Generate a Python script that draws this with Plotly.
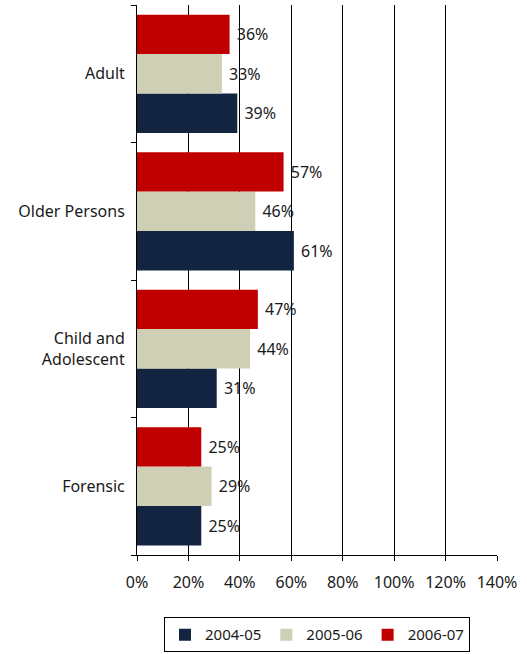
import plotly.graph_objects as go

# Service groups, listed bottom-to-top as plotly draws them
categories = ["Forensic", "Child and<br>Adolescent", "Older Persons", "Adult"]
years = ["2004-05", "2005-06", "2006-07"]
values_2004_05 = [25, 31, 61, 39]
values_2005_06 = [29, 44, 46, 33]
values_2006_07 = [25, 47, 57, 36]
colors = ["#12243F", "#CFCFB5", "#C00000"]
x_ticks = [0, 20, 40, 60, 80, 100, 120, 140]

FONT = "'Noto Sans', 'Open Sans', sans-serif"

fig = go.Figure()
for name, vals, col in zip(years, [values_2004_05, values_2005_06, values_2006_07], colors):
    fig.add_trace(go.Bar(
        y=categories, x=vals, name=name, orientation="h",
        marker=dict(color=col, line=dict(width=0)),
        text=[f" {v}%" for v in vals], textposition="outside",
        textfont=dict(size=16, color="#1a1a1a", family=FONT),
        cliponaxis=False,
    ))

fig.update_layout(
    width=527, height=654,
    margin=dict(l=137, r=30, t=5, b=99, autoexpand=False),
    barmode="group", bargap=0.14, bargroupgap=0,
    plot_bgcolor="white", paper_bgcolor="white",
    font=dict(family=FONT, size=16, color="#1a1a1a"),
    showlegend=True,
    legend=dict(
        orientation="h", x=0.5, xanchor="center",
        yref="container", y=0.056, yanchor="top",
        bordercolor="#000000", borderwidth=1,
        font=dict(size=15, family=FONT),
        traceorder="normal", itemwidth=30,
    ),
)
fig.update_xaxes(
    range=[0, 140], tickvals=x_ticks, ticktext=[f"{t}%" for t in x_ticks],
    showgrid=True, gridcolor="#000000", gridwidth=1,
    showline=True, linecolor="#000000", linewidth=1,
    ticks="outside", ticklen=5, tickcolor="#000000",
    zeroline=False, ticklabelstandoff=8,
)
fig.update_yaxes(
    showgrid=False, showline=True, linecolor="#000000", linewidth=1,
    ticks="outside", ticklen=5, tickcolor="#000000", tickson="boundaries",
    ticklabelstandoff=8,
)

fig.write_html("out.html")
